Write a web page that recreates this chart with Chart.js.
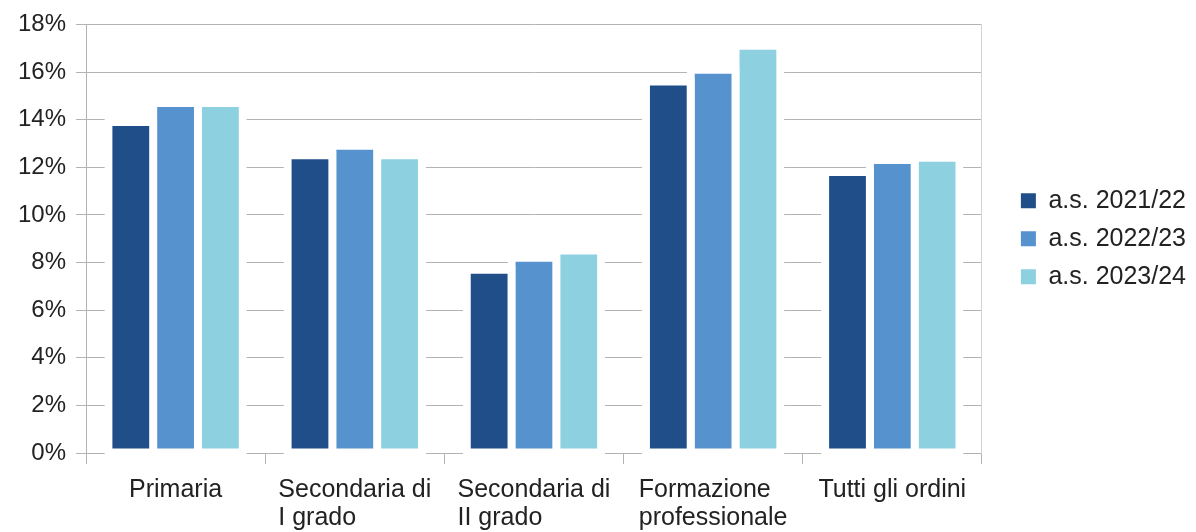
<!DOCTYPE html>
<html>
<head>
<meta charset="utf-8">
<script src="https://cdn.jsdelivr.net/npm/chart.js@4"></script>
<style>
  html, body { margin: 0; padding: 0; background: #ffffff; }
  #wrap { width: 1196px; height: 532px; }
</style>
</head>
<body>
<div id="wrap"><canvas id="chart" width="1196" height="532"></canvas></div>
<script>
const categories = [
  ["Primaria"],
  ["Secondaria di", "I grado"],
  ["Secondaria di", "II grado"],
  ["Formazione", "professionale"],
  ["Tutti gli ordini"]
];
const seriesNames = ["a.s. 2021/22", "a.s. 2022/23", "a.s. 2023/24"];
const as2021 = [13.9, 12.5, 7.7, 15.6, 11.8];
const as2022 = [14.7, 12.9, 8.2, 16.1, 12.3];
const as2023 = [14.7, 12.5, 8.5, 17.1, 12.4];
const seriesColors = ["#1f4e88", "#5692cd", "#8dd0e0"];
const yMax = 18;
const yStep = 2;

const textColor = "#222222";
const gridColor = "#b3b3b3";
const fontFamily = '"Liberation Sans", Arial, sans-serif';

// x labels: block centred under the category, lines left-aligned
const xLabels = {
  id: "xLabels",
  afterDraw(chart) {
    const xs = chart.scales.x;
    const ctx = chart.ctx;
    ctx.save();
    ctx.font = "25px " + fontFamily;
    ctx.fillStyle = textColor;
    ctx.textAlign = "left";
    ctx.textBaseline = "alphabetic";
    categories.forEach((lines, i) => {
      const cx = xs.getPixelForTick(i);
      const w = Math.max(...lines.map(l => ctx.measureText(l).width));
      lines.forEach((line, j) => {
        ctx.fillText(line, cx - w / 2, xs.top + 44 + j * 28);
      });
    });
    ctx.restore();
  }
};

const series = [as2021, as2022, as2023];

new Chart(document.getElementById("chart"), {
  type: "bar",
  data: {
    labels: categories,
    datasets: series.map((values, i) => ({
      label: seriesNames[i],
      data: values,
      backgroundColor: seriesColors[i],
      borderColor: "#ffffff",
      borderWidth: 8,
      borderSkipped: false,
      inflateAmount: 4,
      categoryPercentage: 0.75,
      barPercentage: 1.0,
      clip: false
    }))
  },
  options: {
    responsive: false,
    animation: false,
    layout: { padding: { top: 22, right: 0, bottom: 0, left: 0 } },
    plugins: {
      legend: {
        position: "right",
        fullSize: false,
        labels: {
          boxWidth: 15,
          boxHeight: 15,
          padding: 13,
          color: textColor,
          font: { family: fontFamily, size: 25 },
          // plain squares, without the white bar outline
          generateLabels: (chart) =>
            Chart.defaults.plugins.legend.labels.generateLabels(chart).map(item => ({
              ...item,
              lineWidth: 0,
              strokeStyle: "transparent"
            }))
        }
      },
      tooltip: { enabled: false }
    },
    scales: {
      x: {
        grid: {
          display: true,
          offset: true,
          drawOnChartArea: false,
          drawTicks: true,
          tickLength: 11,
          color: gridColor
        },
        border: { display: true, color: gridColor },
        ticks: { display: false },
        afterFit: (scale) => { scale.height = 79; }
      },
      y: {
        min: 0,
        max: yMax,
        grid: { color: gridColor, tickLength: 10, drawTicks: true },
        border: { display: true, color: gridColor },
        ticks: {
          stepSize: yStep,
          padding: 10,
          color: textColor,
          font: { family: fontFamily, size: 24 },
          callback: (v) => v + "%"
        },
        afterFit: (scale) => { scale.width = 86; }
      },
      // spacer between plot and legend, also draws the plot's right edge
      y2: {
        type: "linear",
        position: "right",
        grid: { display: false },
        ticks: { display: false },
        border: { display: true, color: "#d4d4d4" },
        afterFit: (scale) => { scale.width = 26; }
      }
    }
  },
  plugins: [xLabels]
});
</script>
</body>
</html>
